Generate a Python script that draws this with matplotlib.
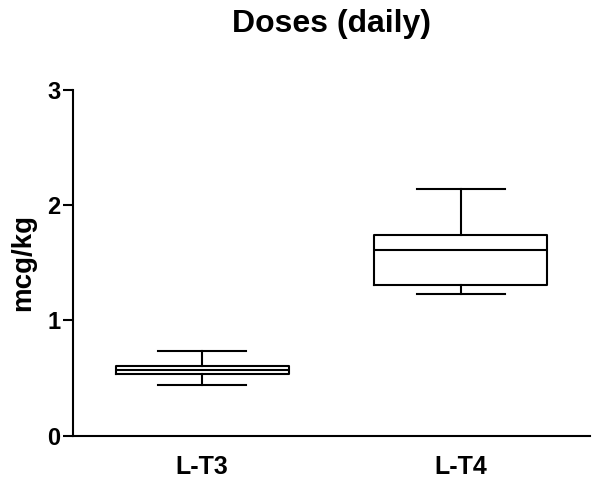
import matplotlib
matplotlib.use("Agg")
import matplotlib.pyplot as plt

plt.rcParams['font.family'] = ['Liberation Sans', 'DejaVu Sans']
plt.rcParams['font.weight'] = 'bold'

groups = ["L-T3", "L-T4"]
w_low = [0.436, 1.226]
q1 = [0.531, 1.307]
median = [0.566, 1.608]
q3 = [0.606, 1.741]
w_high = [0.736, 2.139]

stats = []
for i in range(len(groups)):
    stats.append(dict(label=groups[i], whislo=w_low[i], q1=q1[i], med=median[i],
                      q3=q3[i], whishi=w_high[i], fliers=[]))

fig = plt.figure(figsize=(6, 4.78), dpi=100)
ax = fig.add_axes([0.1217, 0.0889, 0.8613, 0.7228])

lw = 1.5
ax.bxp(stats, positions=[1, 2], widths=0.67, showfliers=False,
       boxprops=dict(color='black', linewidth=lw),
       medianprops=dict(color='black', linewidth=lw),
       whiskerprops=dict(color='black', linewidth=lw),
       capprops=dict(color='black', linewidth=lw),
       capwidths=0.34)

ax.set_xlim(0.5, 2.5)
ax.set_ylim(0, 3)
ax.set_yticks([0, 1, 2, 3])
ax.spines['top'].set_visible(False)
ax.spines['right'].set_visible(False)
ax.spines['left'].set_linewidth(lw)
ax.spines['bottom'].set_linewidth(lw)
ax.tick_params(axis='y', length=7, width=lw, labelsize=17, pad=2)
ax.tick_params(axis='x', length=0, labelsize=18, pad=14)
for t in ax.get_xticklabels():
    t.set_fontstretch('expanded')
ax.set_ylabel("mcg/kg", fontsize=20, fontweight='bold', labelpad=8)

fig.text(0.5525, 1 - 32 / 478, "Doses (daily)", ha='center', va='baseline',
         fontsize=23, fontweight='bold')

fig.savefig("out.png", dpi=100)
